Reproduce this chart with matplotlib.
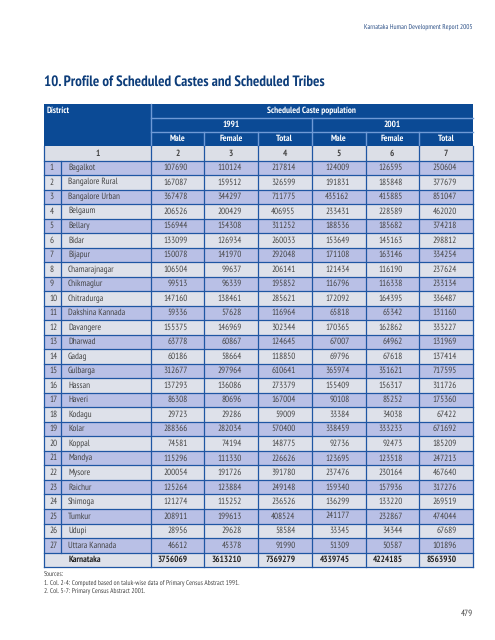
import matplotlib
matplotlib.use("Agg")
import matplotlib.pyplot as plt
from matplotlib.patches import Rectangle
from matplotlib import font_manager

districts = ["Bagalkot", "Bangalore Rural", "Bangalore Urban", "Belgaum", "Bellary", "Bidar",
             "Bijapur", "Chamarajnagar", "Chikmaglur", "Chitradurga", "Dakshina Kannada",
             "Davangere", "Dharwad", "Gadag", "Gulbarga", "Hassan", "Haveri", "Kodagu", "Kolar",
             "Koppal", "Mandya", "Mysore", "Raichur", "Shimoga", "Tumkur", "Udupi", "Uttara Kannada"]
male_1991 = [107690, 167087, 367478, 206526, 156944, 133099, 150078, 106504, 99513, 147160, 59336,
             155375, 63778, 60186, 312677, 137293, 86308, 29723, 288366, 74581, 115296, 200054,
             125264, 121274, 208911, 28956, 46612]
female_1991 = [110124, 159512, 344297, 200429, 154308, 126934, 141970, 99637, 96339, 138461, 57628,
               146969, 60867, 58664, 297964, 136086, 80696, 29286, 282034, 74194, 111330, 191726,
               123884, 115252, 199613, 29628, 45378]
total_1991 = [217814, 326599, 711775, 406955, 311252, 260033, 292048, 206141, 195852, 285621, 116964,
              302344, 124645, 118850, 610641, 273379, 167004, 59009, 570400, 148775, 226626, 391780,
              249148, 236526, 408524, 58584, 91990]
male_2001 = [124009, 191831, 435162, 233431, 188536, 153649, 171108, 121434, 116796, 172092, 65818,
             170365, 67007, 69796, 365974, 155409, 90108, 33384, 338459, 92736, 123695, 237476,
             159340, 136299, 241177, 33345, 51309]
female_2001 = [126595, 185848, 415885, 228589, 185682, 145163, 163146, 116190, 116338, 164395, 65342,
               162862, 64962, 67618, 351621, 156317, 85252, 34038, 333233, 92473, 123518, 230164,
               157936, 133220, 232867, 34344, 50587]
total_2001 = [250604, 377679, 851047, 462020, 374218, 298812, 334254, 237624, 233134, 336487, 131160,
              333227, 131969, 137414, 717595, 311726, 175360, 67422, 671692, 185209, 247213, 467640,
              317276, 269519, 474044, 67689, 101896]
state_name = "Karnataka"
state_values = [3756069, 3613210, 7369279, 4339745, 4224185, 8563930]
sub_headers = ["Male", "Female", "Total"]
years = ["1991", "2001"]
col_numbers = ["1", "2", "3", "4", "5", "6", "7"]

installed = {f.name for f in font_manager.fontManager.ttflist}
FONT = "DejaVu Sans"
for cand in ("PT Sans Narrow", "Fira Sans Condensed", "Open Sans Condensed"):
    if cand in installed:
        FONT = cand
        break
plt.rcParams["font.family"] = [FONT, "DejaVu Sans"]
plt.rcParams["text.hinting"] = "no_hinting"
plt.rcParams["text.hinting_factor"] = 1

W, H = 495, 640
fig = plt.figure(figsize=(W / 100, H / 100), dpi=100)
ax = fig.add_axes([0, 0, 1, 1])
ax.set_xlim(0, W)
ax.set_ylim(H, 0)
ax.axis("off")

BLUE = "#0b4a95"
LINE = "#1f56a3"
HLINE = "#6f9ad6"
ODD = "#b9c0e6"
EVEN = "#dee1ea"
GREY = "#dcdfe7"
TXT = "#444444"
FS = 6.3

# layout
xL, xNum, xDist = 44, 61, 150.5
xcols = [150.5, 204, 258, 311.5, 365.5, 419, 473]
xR = 473
y0 = 104
hrow = [13.5, 14.5, 14]
ycn = y0 + sum(hrow)          # column-number row
rh = 14.52
yd = ycn + 14.5               # data start

# page header
ax.text(473, 28, "Karnataka Human Development Report 2005", ha="right", va="center",
        fontsize=5.4, color="#2b4f86")
ax.text(43.5, 82, "10. Profile of Scheduled Castes and Scheduled Tribes", ha="left", va="center",
        fontsize=11, fontweight="bold", color="#0d3d7a")

# header block
hh = sum(hrow)
ax.add_patch(Rectangle((xL, y0), xR - xL, hh, facecolor=BLUE, edgecolor="none"))
ya = y0 + hrow[0]
yb = ya + hrow[1]
ax.plot([xDist, xR], [ya, ya], color=HLINE, lw=1.0)
ax.plot([xDist, xR], [yb, yb], color=HLINE, lw=1.0)
ax.plot([xDist, xDist], [y0, ycn], color=HLINE, lw=1.0)
ax.plot([xcols[3], xcols[3]], [ya, ycn], color=HLINE, lw=1.0)
for k in (1, 2, 4, 5):
    ax.plot([xcols[k], xcols[k]], [yb, ycn], color=HLINE, lw=1.0)
ax.text(xL + 3, y0 + hrow[0] / 2, "District", ha="left", va="center", fontsize=FS,
        fontweight="bold", color="white")
ax.text((xDist + xR) / 2, y0 + hrow[0] / 2, "Scheduled Caste population", ha="center",
        va="center", fontsize=FS, fontweight="bold", color="white")
for i, yr in enumerate(years):
    ax.text((xcols[3 * i] + xcols[3 * i + 3]) / 2, ya + hrow[1] / 2, yr, ha="center",
            va="center", fontsize=FS, fontweight="bold", color="white")
    for j, s in enumerate(sub_headers):
        k = 3 * i + j
        ax.text((xcols[k] + xcols[k + 1]) / 2, yb + hrow[2] / 2, s, ha="center", va="center",
                fontsize=FS, fontweight="bold", color="white")

# column number row
ax.add_patch(Rectangle((xL, ycn), xR - xL, 14.5, facecolor=GREY, edgecolor="none"))
ax.text((xL + xDist) / 2, ycn + 7.25, col_numbers[0], ha="center", va="center", fontsize=FS,
        fontweight="bold", color=TXT)
for k in range(6):
    ax.text((xcols[k] + xcols[k + 1]) / 2, ycn + 7.25, col_numbers[k + 1], ha="center",
            va="center", fontsize=FS, fontweight="bold", color=TXT)

# data rows
cols = [male_1991, female_1991, total_1991, male_2001, female_2001, total_2001]
n = len(districts)
for i, name in enumerate(districts):
    y = yd + i * rh
    ax.add_patch(Rectangle((xL, y), xR - xL, rh, facecolor=ODD if i % 2 == 0 else EVEN,
                           edgecolor="none"))
    yc = y + rh / 2
    ax.text(xL + 5.5, yc, str(i + 1), ha="left", va="center", fontsize=FS, color=TXT)
    ax.text(xNum + 7, yc, name, ha="left", va="center", fontsize=FS, color=TXT)
    for k, c in enumerate(cols):
        ax.text(xcols[k + 1] - 16, yc, str(c[i]), ha="right", va="center", fontsize=FS, color=TXT)

# state total row
ys = yd + n * rh
ax.add_patch(Rectangle((xL, ys), xR - xL, rh, facecolor=EVEN, edgecolor="none"))
ax.text(xNum + 8, ys + rh / 2, state_name, ha="left", va="center", fontsize=FS,
        fontweight="bold", color="#222222")
for k, v in enumerate(state_values):
    ax.text(xcols[k + 1] - 16, ys + rh / 2, str(v), ha="right", va="center", fontsize=FS,
            fontweight="bold", color="#222222")
yend = ys + rh

# grid lines
for r in range(n + 2):
    y = yd + r * rh
    ax.plot([xL, xR], [y, y], color=LINE, lw=0.9)
ax.plot([xL, xL], [ycn, yend], color=LINE, lw=0.9)
ax.plot([xR, xR], [ycn, yend], color=LINE, lw=0.9)
ax.plot([xNum, xNum], [yd, ys], color=LINE, lw=0.9)
for x in xcols[:-1]:
    ax.plot([x, x], [ycn, yend], color=LINE, lw=0.9)

# sources
ax.text(44, yend + 8, "Sources:", ha="left", va="center", fontsize=4.9, style="italic", color=TXT)
ax.text(44, yend + 16.5, "1. Col. 2-4: Computed based on taluk-wise data of Primary Census Abstract 1991.",
        ha="left", va="center", fontsize=4.9, color=TXT)
ax.text(44, yend + 25, "2. Col. 5-7: Primary Census Abstract 2001.", ha="left", va="center",
        fontsize=4.9, color=TXT)
ax.text(473, 614, "479", ha="right", va="center", fontsize=6.2, color=TXT)

fig.savefig("out.png", dpi=100)
